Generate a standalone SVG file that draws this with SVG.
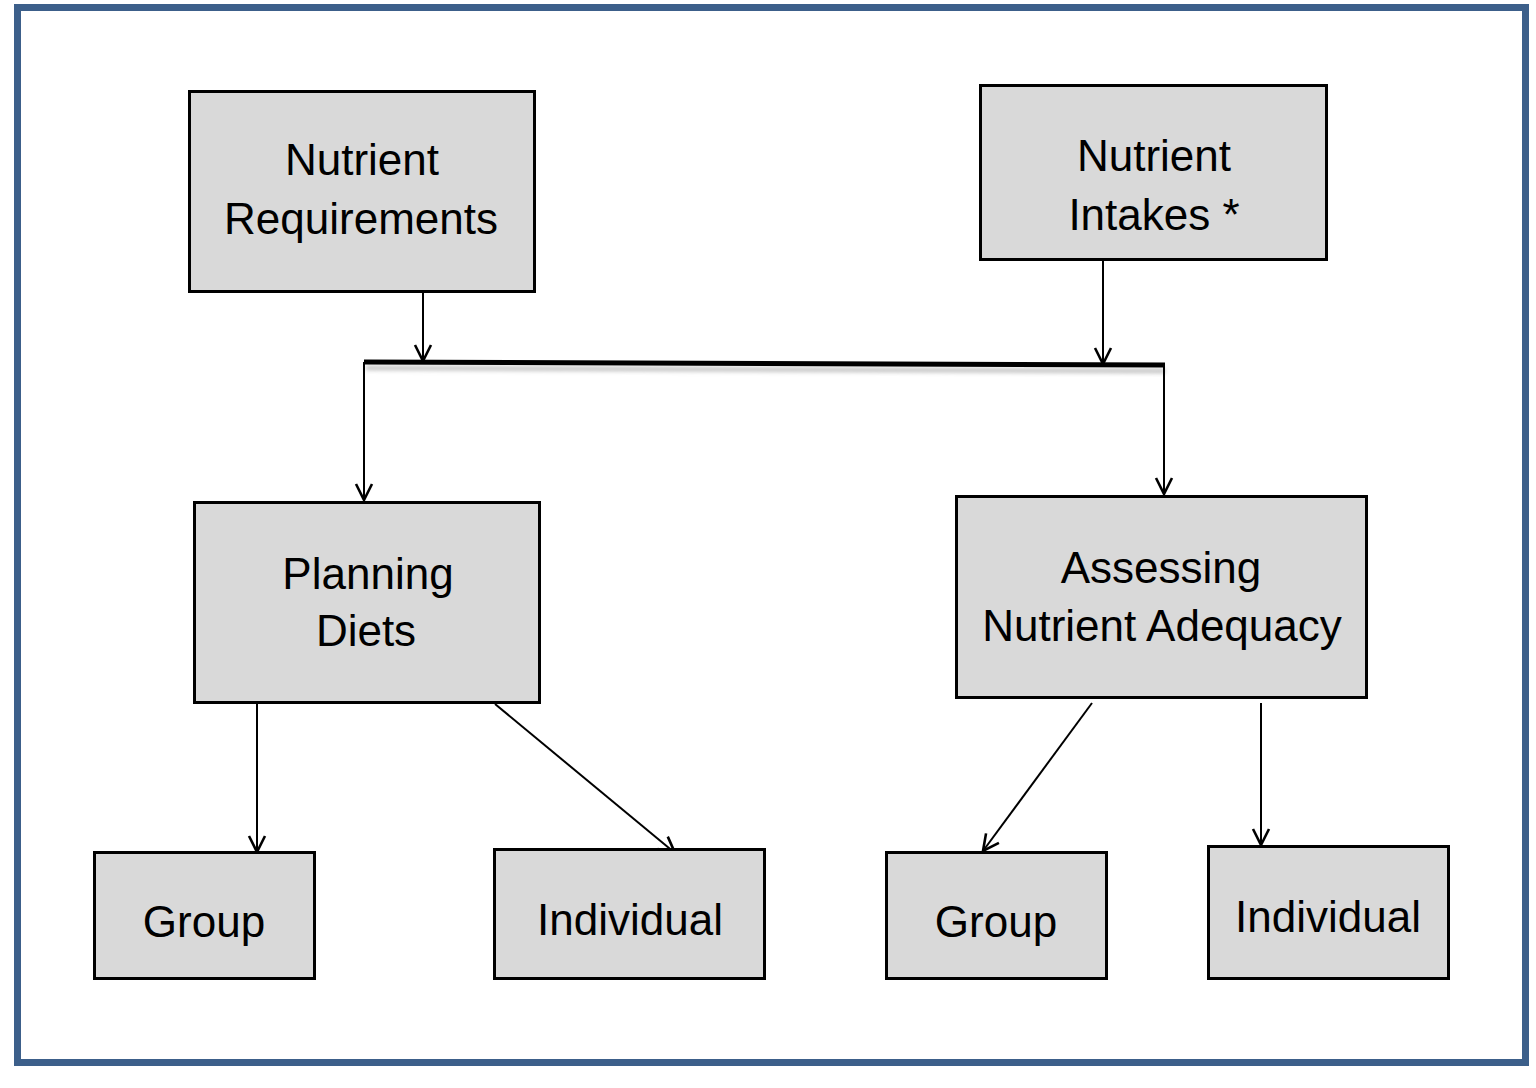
<svg xmlns="http://www.w3.org/2000/svg" width="1536" height="1088" viewBox="0 0 1536 1088">
<defs>
<style>
.box{fill:#d9d9d9;stroke:#000;stroke-width:3}
.t{font-family:"Liberation Sans",Arial,sans-serif;font-size:44px;fill:#000;text-anchor:middle}
.c{stroke:#000;stroke-width:2;fill:none}
</style>
<marker id="ah" viewBox="0 0 20 20" refX="18" refY="10" markerWidth="20" markerHeight="20" markerUnits="userSpaceOnUse" orient="auto">
<path d="M2,2 L18,10 L2,18" fill="none" stroke="#000" stroke-width="2.6"/>
</marker>
<filter id="blur" x="-5%" y="-200%" width="110%" height="500%"><feGaussianBlur stdDeviation="2"/></filter>
</defs>
<rect width="1536" height="1088" fill="#fff"/>
<rect x="17.5" y="7.5" width="1508" height="1055" fill="none" stroke="#3c5f8a" stroke-width="7"/>

<g id="connectors">
<line x1="366" y1="368" x2="1165" y2="371" stroke="#bbb" stroke-width="4" filter="url(#blur)"/>
<line x1="364" y1="362" x2="1165" y2="365" stroke="#000" stroke-width="5"/>
<line class="c" x1="423" y1="293" x2="423" y2="361" marker-end="url(#ah)"/>
<line class="c" x1="1103" y1="260" x2="1103" y2="364" marker-end="url(#ah)"/>
<line class="c" x1="364" y1="362" x2="364" y2="500" marker-end="url(#ah)"/>
<line class="c" x1="1164" y1="365" x2="1164" y2="494" marker-end="url(#ah)"/>
<line class="c" x1="257" y1="703" x2="257" y2="852" marker-end="url(#ah)"/>
<line class="c" x1="495" y1="704" x2="675" y2="853" marker-end="url(#ah)"/>
<line class="c" x1="1092" y1="703" x2="983" y2="851" marker-end="url(#ah)"/>
<line class="c" x1="1261" y1="703" x2="1261" y2="845" marker-end="url(#ah)"/>
</g>

<g id="nutrient-requirements">
<rect class="box" x="189.5" y="91.5" width="345" height="200"/>
<text class="t" x="362" y="175">Nutrient</text>
<text class="t" x="361" y="234">Requirements</text>
</g>
<g id="nutrient-intakes">
<rect class="box" x="980.5" y="85.5" width="346" height="174"/>
<text class="t" x="1154" y="171">Nutrient</text>
<text class="t" x="1154" y="230">Intakes *</text>
</g>
<g id="planning-diets">
<rect class="box" x="194.5" y="502.5" width="345" height="200"/>
<text class="t" x="368" y="589">Planning</text>
<text class="t" x="366" y="646">Diets</text>
</g>
<g id="assessing">
<rect class="box" x="956.5" y="496.5" width="410" height="201"/>
<text class="t" x="1161" y="583">Assessing</text>
<text class="t" x="1162" y="641">Nutrient Adequacy</text>
</g>
<g id="group-1">
<rect class="box" x="94.5" y="852.5" width="220" height="126"/>
<text class="t" x="204" y="937">Group</text>
</g>
<g id="individual-1">
<rect class="box" x="494.5" y="849.5" width="270" height="129"/>
<text class="t" x="630" y="935">Individual</text>
</g>
<g id="group-2">
<rect class="box" x="886.5" y="852.5" width="220" height="126"/>
<text class="t" x="996" y="937">Group</text>
</g>
<g id="individual-2">
<rect class="box" x="1208.5" y="846.5" width="240" height="132"/>
<text class="t" x="1328" y="932">Individual</text>
</g>
</svg>
